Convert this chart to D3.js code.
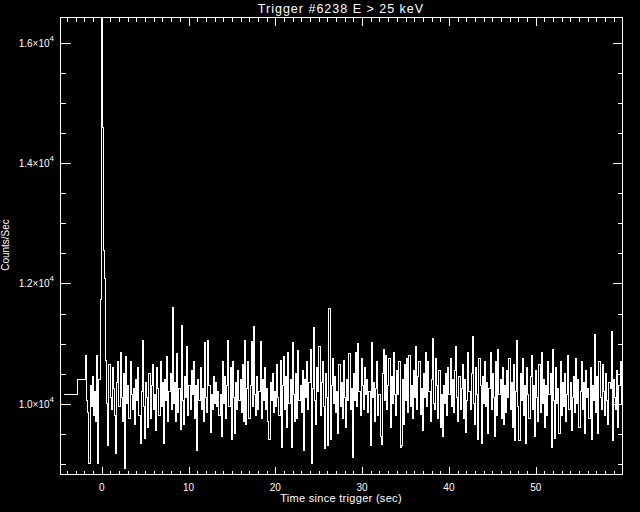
<html lang="en">
<head>
<meta charset="utf-8">
<title>Trigger #6238</title>
<script src="https://d3js.org/d3.v7.min.js"></script>
<style>
  body { margin: 0; background: #000; }
  text { font-family: "Liberation Sans", Arial, sans-serif; fill: #fff; }
</style>
</head>
<body>
<div id="chart"></div>
<script>
// coarse pre-trigger bins (edges in sec, counts/sec)
var coarseEdges = [-4.3, -2.84, -1.856];
var coarseValues = [10150, 10400];

// fine bins, 0.128 s wide, starting at -1.856 s
var fineStart = -1.856;
var fineWidth = 0.128;
var fineValues = [
  10800,10050,9850,9000,10300,9950,10450,9800,10200,9700,10800,9010,10400,11730,16800,14600,12550,12080,10720,10000,
  9310,10650,10100,9900,10600,10250,9800,9170,10350,10700,9950,10850,10100,9700,10500,8920,10780,10000,10300,9750,
  10700,10150,9900,10250,9650,10400,10050,10600,9800,9340,10200,11050,9950,9420,10350,10100,9600,10500,9750,10300,
  10650,9900,10150,9550,10600,10250,9800,10700,9950,10350,9335,10400,10050,10780,9700,10200,10500,9900,11600,10000,
  10350,9700,10830,9850,10250,9580,11300,10050,9650,10450,10100,10950,9800,10300,9900,10550,10150,10700,9750,10300,
  9220,10400,10050,10600,9900,10250,9700,11020,10100,9850,11050,10300,9530,10150,9900,10450,10000,10350,9950,10200,
  9800,10150,9450,10700,10000,10450,9750,10300,11050,9950,10600,9400,10700,10100,9500,10350,9900,10550,10050,10400,
  9850,10650,9700,11050,9650,10250,10700,9750,10300,11030,9950,11290,10150,9800,10450,9900,10200,11030,9750,10400,
  10050,10600,9900,10250,9700,9400,10350,10050,10500,9850,10200,9950,10650,10100,9800,10720,9280,10300,10780,9900,
  10450,9600,10850,10000,10400,9280,11020,10150,9700,10500,9750,10880,10050,10300,9850,10550,9220,10400,10100,10700,
  9900,10350,10900,9000,10250,11270,10050,9650,10600,10200,10950,9800,10350,10700,9950,9260,10500,10100,9310,11580,
  9400,10300,10750,10000,10450,9850,10200,9500,10650,9950,10350,9750,10720,10100,9600,10400,10050,10830,9900,10250,
  9110,10500,10050,10850,9950,11000,10200,9800,10750,10300,9900,10600,10150,10400,9850,10200,9310,11020,10100,10350,
  9700,10250,10700,9800,10150,9450,9320,10500,10900,10050,10800,9900,10300,10750,9600,10450,10000,10850,10150,9800,
  10550,10150,10700,9280,9310,10400,9650,10650,10050,10750,9850,10800,9950,10300,9750,10550,10100,10950,9900,10450,
  10700,9820,10250,9560,10500,10100,10850,9950,10700,10200,9700,10400,11080,10000,9900,10750,10300,9750,10550,9600,
  10150,9450,10300,10000,10500,9800,10600,10150,10750,9950,10400,9850,10550,10950,10100,9700,10450,9900,10250,10650,
  9750,10400,9530,10050,10850,10200,9900,10500,11120,10000,9650,10600,10150,9400,10750,10300,9340,10450,10000,10700,
  9950,10350,9500,10250,10850,9900,10500,10100,9450,10700,9800,10900,10150,10400,9750,10600,9650,10300,9850,10550,
  10100,10750,9900,10350,9600,10650,9390,10200,11060,9950,9390,10500,10050,10750,9800,10300,9335,10600,10150,9750,
  10450,10800,9900,10300,9450,10550,10100,9700,10650,9850,10850,10000,10400,9600,10300,9800,10700,10150,10500,9280,
  10900,10050,9420,10600,10000,10250,9500,10700,9800,10350,9950,10500,9700,10150,10800,9900,10350,9550,10100,10450,
  9850,10750,10000,10400,9600,10200,10700,9900,10350,9500,10550,10100,10250,9750,10600,9400,10300,10050,11150,9850,
  10450,9500,10700,10100,9900,10650,10200,9800,10500,10050,9650,10350,10250,11200,9390,10400,10100,9900,10550,9600,
  10300,10700,10000,10250
];

// axis ticks
var xMajor = [0, 10, 20, 30, 40, 50];
var yMajor = [10000, 12000, 14000, 16000];
var yLabels = ["1.0", "1.2", "1.4", "1.6"];

var W = 640, H = 512;
var plotL = 60.5, plotR = 622.5, plotT = 17.5, plotB = 474.5;

var svg = d3.select("#chart").append("svg")
  .attr("width", W).attr("height", H)
  .style("background", "#000");

var x = d3.scaleLinear().domain([-4.75, 60.0]).range([plotL, plotR]);
var y = d3.scaleLinear().domain([8825, 16420]).range([plotB, plotT]);

// build step points
var pts = [];
coarseValues.forEach(function(v, i) { pts.push([coarseEdges[i], v]); });
fineValues.forEach(function(v, i) { pts.push([fineStart + i * fineWidth, v]); });
pts.push([fineStart + fineValues.length * fineWidth, fineValues[fineValues.length - 1]]);

svg.append("clipPath").attr("id", "clip")
  .append("rect")
  .attr("x", plotL).attr("y", plotT)
  .attr("width", plotR - plotL).attr("height", plotB - plotT);

var line = d3.line()
  .curve(d3.curveStepAfter)
  .x(function(d) { return x(d[0]); })
  .y(function(d) { return y(d[1]); });

svg.append("path")
  .datum(pts)
  .attr("clip-path", "url(#clip)")
  .attr("d", line)
  .attr("fill", "none")
  .attr("stroke", "#fff")
  .attr("stroke-width", 1)
  .attr("shape-rendering", "crispEdges");

// axes (ticks point inward)
var xMinor = d3.range(-4, 60, 1).filter(function(v) { return xMajor.indexOf(v) < 0; });
var yMinor = d3.range(9000, 16500, 500).filter(function(v) { return yMajor.indexOf(v) < 0; });

function styleAxis(g) {
  g.select(".domain").remove();
  g.selectAll("line").attr("stroke", "#fff").attr("shape-rendering", "crispEdges");
  g.selectAll("text").remove();
}

svg.append("g").attr("transform", "translate(0," + plotB + ")")
  .call(d3.axisBottom(x).tickValues(xMajor).tickSize(-8)).call(styleAxis);
svg.append("g").attr("transform", "translate(0," + plotB + ")")
  .call(d3.axisBottom(x).tickValues(xMinor).tickSize(-4)).call(styleAxis);
svg.append("g").attr("transform", "translate(0," + plotT + ")")
  .call(d3.axisTop(x).tickValues(xMajor).tickSize(-8)).call(styleAxis);
svg.append("g").attr("transform", "translate(0," + plotT + ")")
  .call(d3.axisTop(x).tickValues(xMinor).tickSize(-4)).call(styleAxis);

svg.append("g").attr("transform", "translate(" + plotL + ",0)")
  .call(d3.axisLeft(y).tickValues(yMajor).tickSize(-10)).call(styleAxis);
svg.append("g").attr("transform", "translate(" + plotL + ",0)")
  .call(d3.axisLeft(y).tickValues(yMinor).tickSize(-5)).call(styleAxis);
svg.append("g").attr("transform", "translate(" + plotR + ",0)")
  .call(d3.axisRight(y).tickValues(yMajor).tickSize(-10)).call(styleAxis);
svg.append("g").attr("transform", "translate(" + plotR + ",0)")
  .call(d3.axisRight(y).tickValues(yMinor).tickSize(-5)).call(styleAxis);

// frame
svg.append("rect")
  .attr("x", plotL).attr("y", plotT)
  .attr("width", plotR - plotL).attr("height", plotB - plotT)
  .attr("fill", "none").attr("stroke", "#fff")
  .attr("shape-rendering", "crispEdges");

// x tick labels
svg.selectAll(".xl").data(xMajor).enter().append("text")
  .attr("x", function(d) { return x(d); })
  .attr("y", 491)
  .attr("text-anchor", "middle")
  .attr("font-size", 10)
  .text(function(d) { return d; });

// y tick labels with superscript
yMajor.forEach(function(v, i) {
  var t = svg.append("text")
    .attr("x", 54)
    .attr("y", y(v) + 4)
    .attr("text-anchor", "end")
    .attr("font-size", 10);
  t.append("tspan").text(yLabels[i] + "\u00d710");
  t.append("tspan").attr("dy", -6).attr("font-size", 8).text("4");
});

// titles
svg.append("text")
  .attr("x", 341).attr("y", 13)
  .attr("text-anchor", "middle")
  .attr("font-size", 12.5)
  .attr("letter-spacing", 1)
  .text("Trigger #6238 E > 25 keV");

svg.append("text")
  .attr("x", 341).attr("y", 502)
  .attr("text-anchor", "middle")
  .attr("font-size", 11)
  .attr("letter-spacing", 0.3)
  .text("Time since trigger (sec)");

svg.append("text")
  .attr("transform", "translate(9,245) rotate(-90)")
  .attr("text-anchor", "middle")
  .attr("font-size", 10)
  .text("Counts/Sec");
</script>
</body>
</html>
